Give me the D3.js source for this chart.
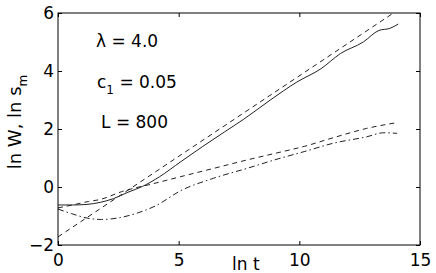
<!DOCTYPE html>
<html>
<head>
<meta charset="utf-8">
<script src="https://cdn.jsdelivr.net/npm/d3@7"></script>
<style>
  body { margin: 0; background: #fff; }
  text { font-family: 'DejaVu Sans', sans-serif; fill: #000; }
</style>
</head>
<body>
<div id="chart"></div>
<script>
// ln W (solid)
const tW = [0, 0.6, 1.2, 1.75, 2.3, 2.9, 3.5, 4.2, 5.1, 6.0, 6.9, 7.7, 8.8, 9.9, 10.9, 11.7, 12.65, 13.3, 13.75, 14.1]
const lnW = [-0.62, -0.62, -0.6, -0.53, -0.4, -0.18, 0.02, 0.35, 0.88, 1.4, 1.9, 2.34, 3.0, 3.62, 4.08, 4.6, 5.0, 5.4, 5.47, 5.62]
// linear fit (dashed, straight)
const tFit = [0, 13.9]
const fit = [-1.72, 6.0]
// ln s_m (dashed)
const tS = [0, 0.6, 1.26, 1.75, 2.64, 4.02, 5.1, 6.44, 7.82, 9.2, 10.2, 11.41, 12.79, 14.05]
const lnS = [-0.72, -0.62, -0.5, -0.43, -0.16, 0.13, 0.36, 0.64, 0.93, 1.2, 1.4, 1.7, 2.02, 2.22]
// second quantity (dash-dot)
const tD = [0, 0.57, 1.2, 1.8, 2.6, 3.35, 4.02, 5.1, 6.44, 7.82, 9.2, 10.2, 11.41, 12.79, 13.5, 14.05]
const lnD = [-0.76, -0.92, -1.07, -1.12, -1.05, -0.88, -0.66, -0.12, 0.3, 0.64, 0.99, 1.22, 1.51, 1.73, 1.87, 1.85]

const xTicks = [0, 5, 10, 15]
const yTicks = [-2, 0, 2, 4, 6]

const width = 436
const height = 273
const margin = { top: 13, left: 58, bottom: 28, right: 16 }
const iw = width - margin.left - margin.right
const ih = height - margin.top - margin.bottom

const svg = d3.select('#chart')
  .append('svg')
  .attr('width', width)
  .attr('height', height)

const x = d3.scaleLinear().domain([0, 15]).range([0, iw])
const y = d3.scaleLinear().domain([-2, 6]).range([ih, 0])

const g = svg.append('g')
  .attr('transform', 'translate(' + margin.left + ',' + margin.top + ')')

const line = d3.line().x(d => x(d[0])).y(d => y(d[1])).curve(d3.curveMonotoneX)
const zip = (a, b) => a.map((v, i) => [v, b[i]])

const series = [
  { data: zip(tW, lnW), dash: null },
  { data: zip(tFit, fit), dash: '5,4' },
  { data: zip(tS, lnS), dash: '5,4' },
  { data: zip(tD, lnD), dash: '6,3,1.5,3' }
]

series.forEach(s => {
  g.append('path')
    .datum(s.data)
    .attr('d', line)
    .attr('fill', 'none')
    .attr('stroke', '#222')
    .attr('stroke-width', 1)
    .attr('stroke-dasharray', s.dash)
})

function styleAxis (sel) {
  sel.select('.domain').remove()
  sel.selectAll('line').attr('stroke', '#000')
  sel.selectAll('text').style('font-family', "'DejaVu Sans', sans-serif").style('font-size', '17px').attr('fill', '#000')
}

g.append('g')
  .attr('transform', 'translate(0,' + ih + ')')
  .call(d3.axisBottom(x).tickValues(xTicks).tickSizeInner(-4).tickSizeOuter(0).tickPadding(9).tickFormat(d3.format('d')))
  .call(styleAxis)
g.append('g')
  .call(d3.axisLeft(y).tickValues(yTicks).tickSizeInner(-4).tickSizeOuter(0).tickPadding(4).tickFormat(d3.format('d')))
  .call(styleAxis)
g.append('g')
  .call(d3.axisTop(x).tickValues(xTicks).tickSizeInner(-4).tickSizeOuter(0).tickFormat(''))
  .call(styleAxis)
g.append('g')
  .attr('transform', 'translate(' + iw + ',0)')
  .call(d3.axisRight(y).tickValues(yTicks).tickSizeInner(-4).tickSizeOuter(0).tickFormat(''))
  .call(styleAxis)

g.append('rect')
  .attr('width', iw)
  .attr('height', ih)
  .attr('fill', 'none')
  .attr('stroke', '#000')
  .attr('stroke-width', 1)

// annotations
const notes = svg.append('g').style('font-size', '17px')
notes.append('text').attr('x', 96).attr('y', 47).text('λ = 4.0')
const c1 = notes.append('text').attr('x', 97).attr('y', 88)
c1.append('tspan').text('c')
c1.append('tspan').attr('dy', 6).style('font-size', '12px').text('1')
c1.append('tspan').attr('dy', -6).text(' = 0.05')
notes.append('text').attr('x', 101).attr('y', 128).text('L = 800')

// axis titles
svg.append('text')
  .attr('x', 232)
  .attr('y', 270)
  .style('font-size', '17px')
  .text('ln t')

const yl = svg.append('text')
  .attr('transform', 'translate(21,122) rotate(-90)')
  .attr('text-anchor', 'middle')
  .style('font-size', '18px')
yl.append('tspan').text('ln W, ln s')
yl.append('tspan').attr('dy', 6).style('font-size', '12px').text('m')
</script>
</body>
</html>
